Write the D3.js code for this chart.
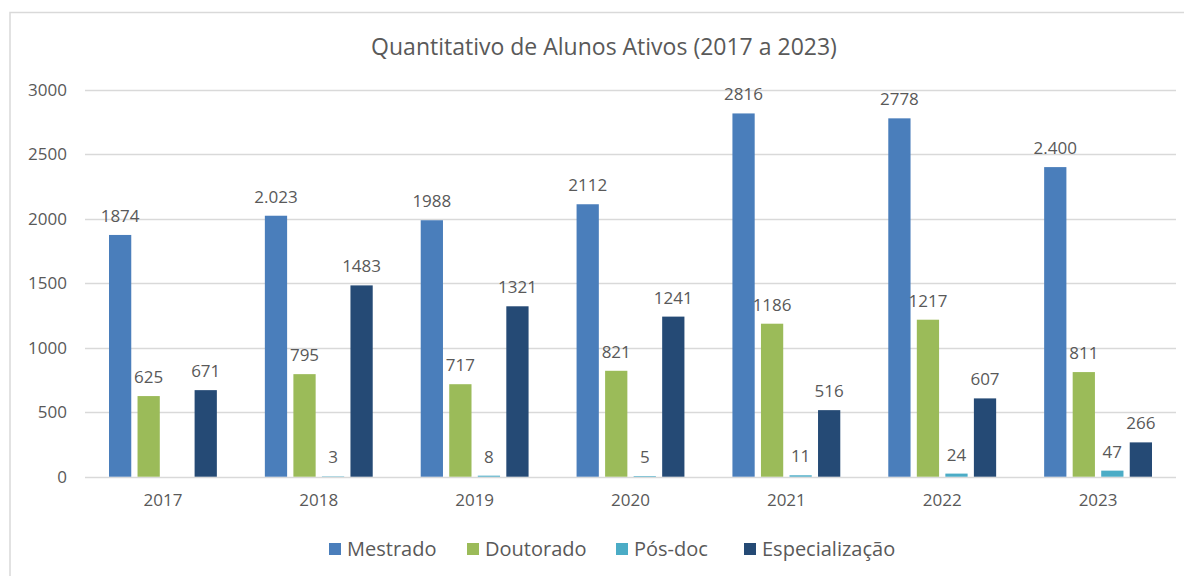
<!DOCTYPE html>
<html>
<head>
<meta charset="utf-8">
<script src="https://cdn.jsdelivr.net/npm/d3@7"></script>
<style>
  body { margin: 0; background: #fff; }
  text { font-family: "Open Sans", "Noto Sans", sans-serif; fill: #595959; }
</style>
</head>
<body>
<svg id="chart" width="1184" height="576"></svg>
<script>
// dados do grafico
var anos = ["2017", "2018", "2019", "2020", "2021", "2022", "2023"];
var series = ["Mestrado", "Doutorado", "Pós-doc", "Especialização"];
var cores = ["#4a7ebb", "#9bbb59", "#4bacc6", "#254a75"];

var mestrado = [1874, 2023, 1988, 2112, 2816, 2778, 2400];
var doutorado = [625, 795, 717, 821, 1186, 1217, 811];
var posdoc = [0, 3, 8, 5, 11, 24, 47];
var especializacao = [671, 1483, 1321, 1241, 516, 607, 266];

// rotulos como aparecem na figura (alguns com ponto de milhar)
var rotMestrado = ["1874", "2.023", "1988", "2112", "2816", "2778", "2.400"];
var rotDoutorado = ["625", "795", "717", "821", "1186", "1217", "811"];
var rotPosdoc = ["", "3", "8", "5", "11", "24", "47"];
var rotEspecializacao = ["671", "1483", "1321", "1241", "516", "607", "266"];

var yTicks = [0, 500, 1000, 1500, 2000, 2500, 3000];

var valores = [mestrado, doutorado, posdoc, especializacao];
var rotulos = [rotMestrado, rotDoutorado, rotPosdoc, rotEspecializacao];

var svg = d3.select("#chart");

// moldura do grafico
svg.append("rect")
  .attr("x", 10).attr("y", 12.5)
  .attr("width", 1190).attr("height", 580)
  .attr("fill", "none")
  .attr("stroke", "#d9d9d9")
  .attr("stroke-width", 1.5);

var plotLeft = 85, plotRight = 1176, plotTop = 89.7, plotBottom = 476.7;

var x = d3.scaleBand().domain(anos).range([plotLeft, plotRight]).paddingInner(0).paddingOuter(0);
var x1 = d3.scaleBand().domain(series).range([24, x.bandwidth() - 24]).paddingInner(0.22);
var y = d3.scaleLinear().domain([0, 3000]).range([plotBottom, plotTop]);

// titulo
svg.append("text")
  .attr("x", 604).attr("y", 55)
  .attr("text-anchor", "middle")
  .attr("font-size", 23)
  .text("Quantitativo de Alunos Ativos (2017 a 2023)");

// linhas de grade
svg.append("g")
  .selectAll("line")
  .data(yTicks)
  .enter().append("line")
  .attr("x1", plotLeft).attr("x2", plotRight)
  .attr("y1", function(d) { return Math.round(y(d)) + 0.5; })
  .attr("y2", function(d) { return Math.round(y(d)) + 0.5; })
  .attr("stroke", "#d9d9d9")
  .attr("stroke-width", 1.4);

// eixo y
var yAxis = svg.append("g")
  .attr("transform", "translate(67,0)")
  .call(d3.axisLeft(y).tickValues(yTicks).tickSize(0).tickPadding(0).tickFormat(d3.format("d")));
yAxis.select(".domain").remove();
yAxis.selectAll("text").attr("font-size", 17).attr("fill", "#595959")
  .style("font-family", "'Open Sans', 'Noto Sans', sans-serif");

// eixo x
var xAxis = svg.append("g")
  .attr("transform", "translate(0," + (plotBottom + 17) + ")")
  .call(d3.axisBottom(x).tickSize(0).tickPadding(0));
xAxis.select(".domain").remove();
xAxis.selectAll("text").attr("font-size", 17).attr("fill", "#595959")
  .style("font-family", "'Open Sans', 'Noto Sans', sans-serif");

// barras
var grupos = svg.append("g")
  .selectAll("g")
  .data(anos)
  .enter().append("g")
  .attr("transform", function(d) { return "translate(" + x(d) + ",0)"; });

grupos.each(function(ano, i) {
  var g = d3.select(this);
  series.forEach(function(s, j) {
    var v = valores[j][i];
    g.append("rect")
      .attr("x", x1(s))
      .attr("y", y(v))
      .attr("width", x1.bandwidth())
      .attr("height", plotBottom - y(v))
      .attr("fill", cores[j]);
    g.append("text")
      .attr("x", x1(s) + x1.bandwidth() / 2)
      .attr("y", y(v) - 13)
      .attr("text-anchor", "middle")
      .attr("font-size", 17)
      .attr("fill", "#404040")
      .text(rotulos[j][i]);
  });
});

// legenda
var legX = [329, 467, 616, 744];
var leg = svg.append("g").attr("transform", "translate(0,549)");
series.forEach(function(s, j) {
  leg.append("rect")
    .attr("x", legX[j]).attr("y", -6)
    .attr("width", 12).attr("height", 12)
    .attr("fill", cores[j]);
  leg.append("text")
    .attr("x", legX[j] + 18).attr("y", 7)
    .attr("font-size", 20)
    .text(s);
});
</script>
</body>
</html>
